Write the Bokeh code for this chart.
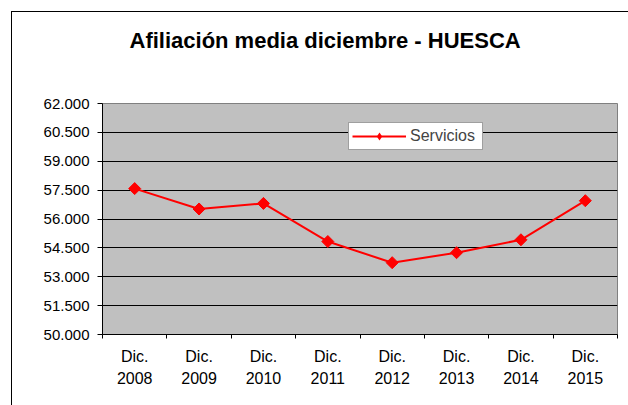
from bokeh.plotting import figure
from bokeh.models import (Range1d, FixedTicker, CustomJSTickFormatter, Legend, LegendItem,
                          InlineStyleSheet, Title)
from bokeh.embed import file_html
from bokeh.resources import INLINE
import numpy as np

# ---- data ----
years = ["2008", "2009", "2010", "2011", "2012", "2013", "2014", "2015"]
servicios = [57580, 56520, 56810, 54830, 53730, 54250, 54920, 56950]
y_ticks = [50000, 51500, 53000, 54500, 56000, 57500, 59000, 60500, 62000]
title_text = "Afiliación media diciembre - HUESCA"
series_name = "Servicios"

# ---- layout constants (page pixels) ----
W, H = 628, 405
FL, FR, FT, FB = 102, 617, 103, 334
FONT = "Liberation Sans"

n = len(years)
xs = list(range(n))

p = figure(width=W, height=H, output_backend="svg", toolbar_location=None,
           x_range=Range1d(-0.5, n - 0.5), y_range=Range1d(y_ticks[0], y_ticks[-1]),
           min_border_left=FL, min_border_right=W - FR,
           min_border_top=FT, min_border_bottom=H - FB)

p.background_fill_color = "#C0C0C0"
p.border_fill_color = "white"
p.outline_line_color = "#808080"
p.outline_line_width = 1

# title
p.title.text = title_text
p.title.align = "left"
p.title.offset = 27
p.title.vertical_align = "top"
p.title.standoff = 10
p.title.text_font = FONT
p.title.text_font_size = "22px"
p.title.text_font_style = "bold"
p.title.text_color = "black"
# blank spacer between the title and the plot area (pushes the title up)
p.add_layout(Title(text=" ", text_font_size="1px", standoff=41), "above")

# grid
p.xgrid.visible = False
p.ygrid.ticker = FixedTicker(ticks=y_ticks)
p.ygrid.grid_line_color = "black"
p.ygrid.grid_line_width = 1

# y axis
p.yaxis.ticker = FixedTicker(ticks=y_ticks)
p.yaxis.formatter = CustomJSTickFormatter(code="""
    const s = Math.round(tick).toString();
    return s.slice(0, -3) + '.' + s.slice(-3);
""")
p.yaxis.axis_line_color = "black"
p.yaxis.major_tick_line_color = "black"
p.yaxis.major_tick_out = 5
p.yaxis.major_tick_in = 0
p.yaxis.minor_tick_line_color = None
p.yaxis.major_label_text_font = FONT
p.yaxis.major_label_text_font_size = "15px"
p.yaxis.major_label_text_color = "black"
p.yaxis.major_label_standoff = 8

# x axis: labels at category centres, ticks between categories
p.xaxis.ticker = FixedTicker(ticks=xs, minor_ticks=[i - 0.5 for i in range(n + 1)])
p.xaxis.major_label_overrides = {i: "Dic.\n" + y for i, y in enumerate(years)}
p.xaxis.axis_line_color = "black"
p.xaxis.major_tick_line_color = None
p.xaxis.major_tick_out = 0
p.xaxis.major_tick_in = 0
p.xaxis.minor_tick_line_color = "black"
p.xaxis.minor_tick_out = 4
p.xaxis.minor_tick_in = 0
p.xaxis.major_label_text_font = FONT
p.xaxis.major_label_text_font_size = "16px"
p.xaxis.major_label_text_color = "black"
p.xaxis.major_label_text_line_height = 1.3
p.xaxis.major_label_standoff = 9

# series
ln = p.line(xs, servicios, line_color="#FF0000", line_width=2)
mk = p.scatter(xs, servicios, marker="square", angle=np.pi / 4, size=8.5,
               fill_color="#FF0000", line_color="#FF0000")
# legend swatch marker: zero-size diamonds on the same data (legend sizes its own swatch)
lg = p.scatter(xs, servicios, marker="diamond", size=0,
               fill_color="#FF0000", line_color=None)

legend = Legend(items=[LegendItem(label=series_name, renderers=[ln, lg])],
                location=(246, 184), margin=0, padding=3,
                spacing=0, glyph_width=54, glyph_height=20, label_height=20,
                label_width=69, label_standoff=4,
                label_text_font=FONT, label_text_font_size="16px",
                border_line_color="#404040", border_line_width=1,
                background_fill_color="white", background_fill_alpha=1)
p.add_layout(legend, "center")

# outer chart frame (continues beyond the right and bottom edges)
p.stylesheets = [InlineStyleSheet(css="""
:host::after {
  content: "";
  position: absolute;
  left: 11px; top: 11px; right: 0; bottom: 0;
  border-left: 1px solid #000;
  border-top: 1px solid #000;
  pointer-events: none;
  z-index: 10;
}
""")]

open("out.html", "w").write(file_html(p, INLINE))
